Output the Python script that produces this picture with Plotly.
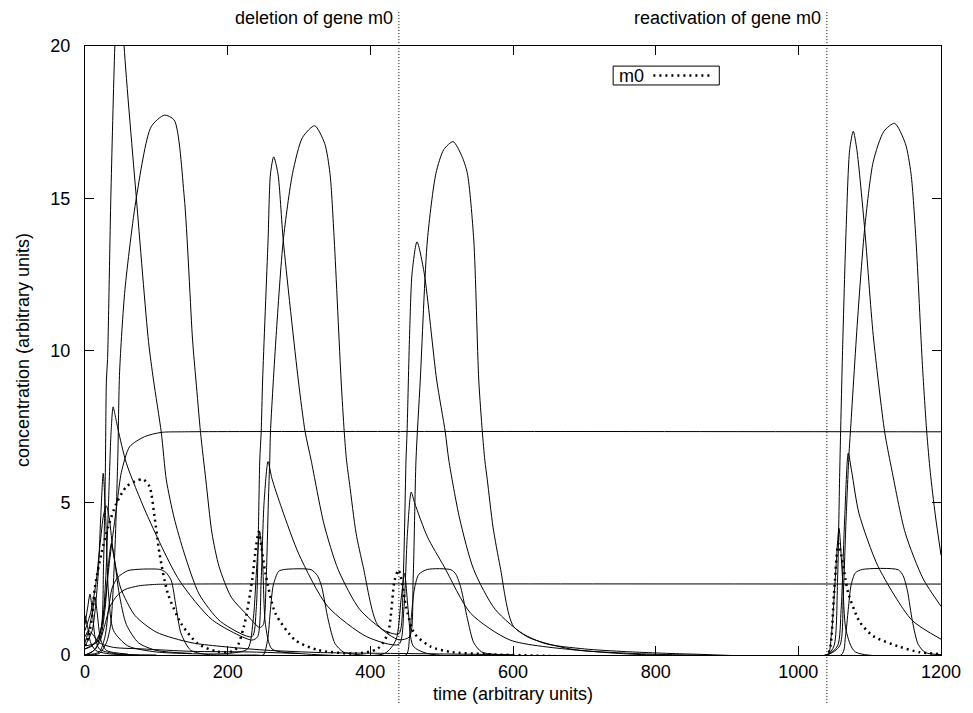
import plotly.graph_objects as go

# ---------------- data ----------------
# narrow spike species
spike_t = [0, 10, 22, 26, 28.5, 30, 31.6, 36.2, 41.8, 48, 54.8, 72, 89, 96, 107, 114, 125, 139, 160, 190, 234,
           240, 243, 245, 247, 249, 256.6, 260, 264.5, 270.5, 278, 299, 308.6, 317, 335, 355, 385, 420, 440,
           446, 450, 451.5, 455, 458.5, 465.4, 475.6, 493, 505, 510, 525, 545, 575, 620, 680, 750, 800, 1040,
           1050, 1055, 1058, 1062, 1067, 1072, 1077, 1082, 1093, 1105, 1121, 1130, 1150, 1175, 1200]
spike_v = [0.2, 0.3, 0.8, 3.0, 6.0, 9.03, 9.7, 15, 20, 23.5, 20, 15, 10.3, 9.03, 7.3, 5.75, 4.5, 3.35, 2.0, 1.1, 0.6,
           1.5, 4.0, 6.4, 7.33, 9.03, 13.6, 15.8, 16.36, 15.8, 13.6, 9.03, 7.33, 6.4, 4.3, 2.8, 1.5, 0.8, 0.7,
           2.5, 6.4, 7.33, 10.5, 12.53, 13.57, 12.53, 9.03, 7.33, 6.4, 4.5, 2.8, 1.5, 0.6, 0.2, 0.05, 0.0, 0.0,
           0.3, 2.5, 6.0, 10.0, 14.0, 16.6, 17.2, 16.6, 14.0, 10.5, 7.33, 6.2, 4.0, 2.5, 1.6]

# broad peak species
broad_t = [0, 20, 30, 36, 42, 46, 48.5, 56, 72, 92.8, 111.4, 125, 139.2, 150.8, 155.5, 162, 169.4, 178, 188, 205, 225, 245,
           250, 254, 257, 259, 260, 268, 278, 291, 305, 322, 336, 343.4, 349.4, 359, 363.4, 366.6, 371, 380, 390, 410, 440,
           455, 460, 464, 470, 480, 492, 503, 516, 528, 536, 545, 552, 557, 560.5, 564, 572, 582, 601, 643, 700, 759, 850,
           1040, 1058, 1063, 1067, 1071, 1073, 1083, 1093, 1105, 1120, 1135, 1150, 1158, 1165, 1174, 1180, 1185, 1192, 1200]
broad_v = [0, 0.05, 0.4, 1.0, 3.5, 6.5, 9.3, 12.0, 15.02, 17.35, 17.73, 17.57, 15.02, 10.34, 9.03, 7.3, 5.75, 4.0, 2.9, 1.9, 1.37, 0.9,
           1.0, 2.5, 5.0, 6.4, 7.33, 10.5, 13.63, 15.82, 17.0, 17.38, 16.8, 15.82, 13.63, 9.03, 7.33, 6.4, 5.6, 4.0, 2.9, 1.0, 0.5,
           0.6, 2.5, 6.4, 9.03, 13.63, 15.82, 16.6, 16.86, 16.4, 15.82, 13.63, 9.03, 7.33, 6.4, 5.75, 4.2, 2.9, 0.93, 0.39, 0.2, 0.11, 0.03,
           0.0, 0.3, 2.0, 4.5, 6.6, 7.33, 11.0, 14.0, 16.2, 17.2, 17.46, 16.8, 15.8, 13.6, 9.5, 7.33, 6.0, 4.6, 3.28]

# medium peak species with long decay
medium_t = [0, 15, 24, 29, 33, 36.5, 39.4, 42, 46.4, 58, 86, 132, 178.6, 234,
            242, 247, 251, 256.6, 262, 276, 300, 340, 395, 440,
            447, 452, 457.3, 462, 480, 503.5, 540.6, 596, 689, 780, 850,
            1040, 1055, 1060, 1065, 1070, 1075, 1085, 1112, 1159, 1200]
medium_v = [0.3, 0.4, 1.0, 2.5, 5.0, 7.3, 8.15, 7.9, 7.4, 6.3, 4.65, 2.46, 1.15, 0.49,
            0.6, 2.5, 5.0, 6.35, 5.8, 4.8, 3.3, 1.6, 0.6, 0.35,
            1.5, 4.0, 5.35, 5.0, 3.88, 2.9, 1.37, 0.49, 0.16, 0.04, 0.0,
            0.0, 0.3, 1.5, 4.5, 6.63, 6.0, 4.65, 2.9, 1.15, 0.52]

# plateau species
plateau_t = [0, 20, 28, 33, 38, 46, 60, 80, 105, 113, 120.7, 127.6, 134.6, 148, 170, 240,
             250, 256, 260, 264, 271.5, 280, 317, 326, 331.8, 341, 350.4, 362, 380,
             450, 455, 458, 462, 468, 480, 513, 520, 527, 536, 545, 556, 575,
             1060, 1066, 1070, 1074, 1080, 1090, 1140, 1147, 1153, 1160, 1168, 1178, 1200]
plateau_v = [0, 0.1, 0.6, 1.5, 2.2, 2.55, 2.77, 2.82, 2.81, 2.72, 2.46, 1.59, 0.71, 0.16, 0.02, 0.0,
             0.0, 0.5, 1.5, 2.3, 2.75, 2.81, 2.8, 2.6, 2.24, 1.15, 0.38, 0.1, 0.02,
             0.0, 0.6, 1.4, 2.2, 2.65, 2.81, 2.8, 2.65, 2.2, 1.2, 0.4, 0.1, 0.02,
             0.0, 0.6, 1.5, 2.3, 2.7, 2.81, 2.8, 2.6, 2.1, 1.1, 0.35, 0.08, 0.01]

# gene m0 (dotted)
m0_t = [0, 5, 10, 14, 23, 32.5, 44, 58, 70, 81.2, 90.5, 97.5, 104.4, 116, 134.6, 157.8, 185.6, 210,
        222.7, 234.3, 240, 243.6, 247, 253, 266.9, 294.7, 327, 380,
        410, 424.6, 434, 439.5, 445, 450, 461.8, 485, 513, 560, 600,
        1040, 1045, 1050, 1056, 1060, 1066, 1070, 1086, 1105, 1142, 1170, 1200]
m0_v = [0.3, 0.6, 1.3, 2.24, 3.34, 4.21, 4.98, 5.53, 5.7, 5.77, 5.53, 4.54, 3.34, 2.03, 1.04, 0.38, 0.11, 0.15,
        0.93, 2.46, 3.6, 4.05, 3.6, 2.68, 1.37, 0.49, 0.16, 0.05,
        0.2, 0.71, 2.46, 2.79, 2.3, 1.59, 0.71, 0.27, 0.1, 0.03, 0.0,
        0.0, 0.3, 2.0, 3.65, 3.3, 2.5, 2.03, 1.09, 0.62, 0.27, 0.09, 0.03]

# saturating species (upper flat level)
high_t = [0, 15, 25, 35, 45, 51, 62.6, 83.5, 106.7, 140, 1200]
high_v = [0, 0.2, 1.2, 3.2, 5.0, 6.0, 6.84, 7.17, 7.31, 7.33, 7.33]

# saturating species (lower flat level)
low_t = [0, 10, 20, 28, 35, 45, 56, 75, 100, 130, 1200]
low_v = [0, 0.1, 0.4, 1.0, 1.59, 1.95, 2.15, 2.27, 2.32, 2.33, 2.33]

# small fast peaks at each burst
small_t = [0, 10, 18, 22, 25.5, 29, 33, 40, 60, 100, 200,
           228, 236, 241, 245, 249, 253, 262, 300, 420,
           436, 443, 448, 453, 460, 480, 1040,
           1046, 1051, 1057, 1062, 1067, 1080, 1200]
small_v = [0.3, 0.8, 2.5, 4.5, 5.97, 4.5, 2.0, 0.8, 0.3, 0.1, 0.05,
           0.2, 1.2, 3.0, 4.05, 3.0, 1.0, 0.2, 0.05, 0.05,
           0.5, 1.8, 2.68, 1.5, 0.3, 0.05, 0.0,
           0.6, 2.2, 4.16, 2.5, 0.8, 0.1, 0.0]

# other early transients
r_t = [0, 8, 15, 21, 26, 30, 34, 40, 50, 70, 100, 150, 230, 260, 330, 440, 600]
r_v = [0.8, 1.4, 2.3, 3.6, 4.6, 4.9, 4.5, 3.3, 2.2, 1.3, 0.75, 0.4, 0.2, 0.15, 0.08, 0.05, 0.01]

u_t = [0, 20, 28, 33, 37, 41, 48, 58, 75, 100, 150]
u_v = [0.2, 0.5, 1.5, 3.0, 3.67, 3.2, 2.0, 1.0, 0.4, 0.15, 0.05]

t1_t = [0, 4, 7, 10, 14, 20, 40, 100]
t1_v = [1.0, 1.6, 2.0, 1.5, 0.6, 0.2, 0.05, 0.0]

t2_t = [0, 6, 11, 14, 17, 22, 30, 60]
t2_v = [0.4, 0.9, 1.5, 1.9, 1.4, 0.5, 0.15, 0.03]

t3_t = [0, 3, 8, 15, 30, 60]
t3_v = [1.3, 1.0, 0.4, 0.15, 0.05, 0.0]

t4_t = [0, 5, 10, 20, 40, 80, 150, 230, 300]
t4_v = [0.6, 0.8, 0.7, 0.4, 0.25, 0.2, 0.12, 0.1, 0.05]

events_t = [440, 1040]
events_label = ["deletion of gene m0", "reactivation of gene m0"]

x_ticks = [0, 200, 400, 600, 800, 1000, 1200]
y_ticks = [0, 5, 10, 15, 20]

# ---------------- figure ----------------
FONT = "Liberation Sans, Arial, Helvetica, sans-serif"
FS = 18
fig = go.Figure()

solid = [(spike_t, spike_v), (broad_t, broad_v), (medium_t, medium_v), (plateau_t, plateau_v),
         (high_t, high_v), (low_t, low_v), (small_t, small_v), (r_t, r_v), (u_t, u_v),
         (t1_t, t1_v), (t2_t, t2_v), (t3_t, t3_v), (t4_t, t4_v)]
for tt, vv in solid:
    fig.add_trace(go.Scatter(x=tt, y=vv, mode="lines", showlegend=False,
                             line=dict(color="black", width=1, shape="spline", smoothing=0.7),
                             hoverinfo="skip"))

fig.add_trace(go.Scatter(x=m0_t, y=m0_v, mode="lines", name="m0", showlegend=False,
                         line=dict(color="black", width=2.5, dash="2px,4px", shape="spline", smoothing=0.7)))

# event lines and labels
for et, lab in zip(events_t, events_label):
    fig.add_shape(type="line", xref="x", yref="paper", x0=et, x1=et, y0=-0.079, y1=1.058,
                  line=dict(color="black", width=1, dash="1px,2px"), layer="above")
    fig.add_annotation(x=et, xref="x", y=1.046, yref="paper", text=lab, showarrow=False,
                       xanchor="right", yanchor="middle", xshift=-4,
                       font=dict(family=FONT, size=FS, color="black"))

# legend box (gnuplot style: text left, sample right)
fig.add_shape(type="rect", xref="paper", yref="paper", x0=0.617, x1=0.741, y0=0.936, y1=0.967,
              line=dict(color="black", width=1), fillcolor="white", layer="above")
fig.add_annotation(x=0.621, y=0.9515, xref="paper", yref="paper", text="m0", showarrow=False,
                   xanchor="left", yanchor="middle", font=dict(family=FONT, size=FS, color="black"))
fig.add_shape(type="line", xref="paper", yref="paper", x0=0.664, x1=0.733, y0=0.9515, y1=0.9515,
              line=dict(color="black", width=2.5, dash="2px,4px"), layer="above")

# axis titles
fig.add_annotation(x=0.5, y=-0.064, xref="paper", yref="paper", text="time (arbitrary units)",
                   showarrow=False, xanchor="center", yanchor="middle",
                   font=dict(family=FONT, size=FS, color="black"))
fig.add_annotation(x=-0.073, y=0.5, xref="paper", yref="paper", text="concentration (arbitrary units)",
                   showarrow=False, textangle=-90, xanchor="center", yanchor="middle",
                   font=dict(family=FONT, size=FS, color="black"))

# page body has an 8px margin: figure is sized so the plot area lands at x 85..947, y 46..655
fig.update_layout(
    width=965, height=697,
    margin=dict(l=77, r=26, t=38, b=50),
    paper_bgcolor="white", plot_bgcolor="white",
    font=dict(family=FONT, size=FS, color="black"),
    showlegend=False,
    xaxis=dict(range=[0, 1200], tickvals=x_ticks, ticks="inside", ticklen=9, tickcolor="black",
               showline=True, linecolor="black", linewidth=1, mirror="ticks",
               showgrid=False, zeroline=False, ticklabelstandoff=0,
               tickfont=dict(family=FONT, size=FS, color="black")),
    yaxis=dict(range=[0, 20], tickvals=y_ticks, ticks="inside", ticklen=9, tickcolor="black",
               showline=True, linecolor="black", linewidth=1, mirror="ticks",
               showgrid=False, zeroline=False, ticklabelstandoff=10,
               tickfont=dict(family=FONT, size=FS, color="black")),
)

fig.write_html("out.html")
